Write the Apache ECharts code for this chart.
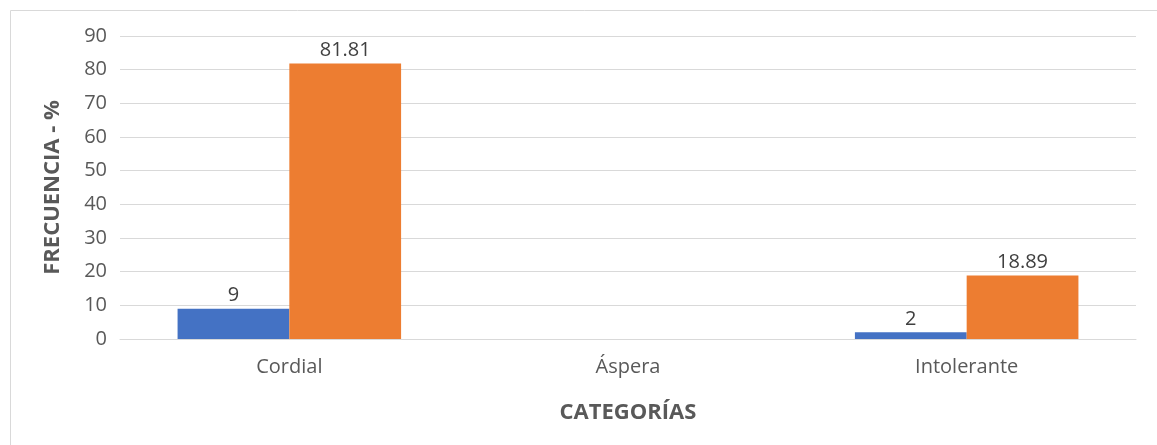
<!DOCTYPE html>
<html><head><meta charset="utf-8">
<script src="https://cdn.jsdelivr.net/npm/echarts@6/dist/echarts.min.js"></script>
<style>html,body{margin:0;padding:0;background:#fff}#c{width:1157px;height:445px}</style>
</head><body><div id="c"></div>
<script>
const categories = ['Cordial', 'Áspera', 'Intolerante'];
const seriesA = [9, null, 2];
const seriesB = [81.81, null, 18.89];
const yTicks = {min: 0, max: 90, interval: 10};

const chart = echarts.init(document.getElementById('c'));
const font = '"Open Sans", "Noto Sans", sans-serif';
chart.setOption({
  animation: false,
  textStyle: {fontFamily: font},
  graphic: [{type: 'rect', shape: {x: 10.5, y: 10.5, width: 1160, height: 460}, style: {fill: 'none', stroke: '#d9d9d9', lineWidth: 1}}],
  grid: {left: 120, right: 21, top: 36, bottom: 106, containLabel: false},
  xAxis: {
    type: 'category', data: categories,
    axisLine: {show: true, lineStyle: {color: '#d9d9d9'}},
    axisTick: {show: false},
    axisLabel: {color: '#595959', fontSize: 20, margin: 18, fontFamily: font},
    name: 'CATEGORÍAS', nameLocation: 'middle', nameGap: 63,
    nameTextStyle: {color: '#595959', fontSize: 22, fontWeight: 'bold', fontFamily: font}
  },
  yAxis: {
    type: 'value', min: yTicks.min, max: yTicks.max, interval: yTicks.interval,
    axisLine: {show: false}, axisTick: {show: false},
    splitLine: {lineStyle: {color: '#d9d9d9', width: 1}},
    axisLabel: {color: '#595959', fontSize: 20, margin: 13, fontFamily: font},
    name: 'FRECUENCIA - %', nameLocation: 'middle', nameGap: 56,
    nameTextStyle: {color: '#595959', fontSize: 22, fontWeight: 'bold', fontFamily: font}
  },
  series: [
    {type: 'bar', data: seriesA, barGap: '0%', barCategoryGap: '34%',
     itemStyle: {color: '#4472c4'},
     label: {show: true, position: 'top', distance: 3, color: '#404040', fontSize: 20, fontFamily: font}},
    {type: 'bar', data: seriesB, barGap: '0%', barCategoryGap: '34%',
     itemStyle: {color: '#ed7d31'},
     label: {show: true, position: 'top', distance: 3, color: '#404040', fontSize: 20, fontFamily: font}}
  ]
});
</script></body></html>
